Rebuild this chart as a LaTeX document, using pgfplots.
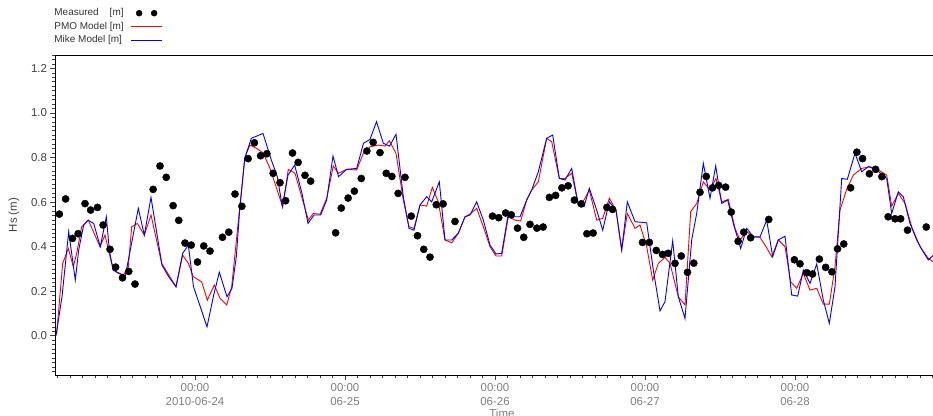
\documentclass[border=0pt]{standalone}
\usepackage{fontspec}
\setmainfont{Liberation Sans}
\usepackage{pgfplots}
\usepackage{pgfplotstable}
\pgfplotsset{compat=1.18}

% x: hours after 2010-06-24 00:00, y: Hs [m]
\pgfplotstableread{
h v
-21.7 0.546
-20.7 0.614
-19.6 0.437
-18.7 0.458
-17.6 0.593
-16.7 0.564
-15.6 0.576
-14.7 0.497
-13.6 0.388
-12.7 0.308
-11.6 0.260
-10.6 0.289
-9.6 0.232
-6.7 0.657
-5.6 0.762
-4.6 0.711
-3.5 0.584
-2.6 0.518
-1.6 0.416
-0.6 0.407
0.4 0.331
1.4 0.403
2.4 0.380
4.4 0.442
5.4 0.465
6.4 0.636
7.5 0.581
8.5 0.795
9.5 0.866
10.5 0.808
11.5 0.817
12.5 0.729
13.6 0.687
14.5 0.606
15.6 0.820
16.5 0.778
17.6 0.720
18.5 0.694
22.5 0.462
23.4 0.573
24.5 0.618
25.5 0.649
26.6 0.706
27.5 0.829
28.5 0.868
29.6 0.822
30.6 0.729
31.5 0.715
32.5 0.639
33.6 0.711
34.6 0.537
35.6 0.449
36.6 0.388
37.6 0.353
38.6 0.588
39.7 0.592
41.6 0.513
47.6 0.537
48.6 0.530
49.7 0.551
50.6 0.543
51.6 0.483
52.6 0.442
53.6 0.500
54.7 0.483
55.7 0.488
56.7 0.621
57.7 0.630
58.7 0.664
59.7 0.673
60.7 0.609
61.8 0.592
62.7 0.458
63.7 0.461
65.9 0.576
66.8 0.567
71.6 0.419
72.7 0.419
73.8 0.383
74.8 0.365
75.7 0.370
76.8 0.325
77.8 0.358
78.8 0.285
79.8 0.326
80.8 0.644
81.8 0.715
82.8 0.664
83.8 0.675
84.9 0.667
85.8 0.555
86.9 0.424
87.8 0.465
88.9 0.440
91.8 0.522
95.9 0.341
96.8 0.323
97.9 0.283
98.8 0.277
99.9 0.344
100.9 0.307
101.9 0.287
102.8 0.390
103.8 0.412
104.9 0.664
105.9 0.824
106.8 0.795
107.9 0.727
108.9 0.747
109.9 0.714
110.9 0.534
112.0 0.525
112.9 0.525
114.0 0.474
117.0 0.488
}\measured

\pgfplotstableread{
h v
-22.13 0.010
-21.17 0.325
-20.27 0.392
-19.47 0.310
-18.93 0.370
-18.13 0.489
-17.07 0.519
-15.20 0.400
-14.40 0.452
-13.33 0.325
-12.53 0.287
-11.47 0.272
-10.67 0.310
-10.13 0.489
-9.23 0.504
-8.11 0.452
-7.04 0.542
-5.33 0.325
-3.04 0.220
-1.97 0.362
-1.07 0.325
-0.27 0.265
1.07 0.242
1.97 0.160
3.09 0.228
4.00 0.168
5.07 0.138
5.87 0.220
6.88 0.500
8.00 0.803
8.80 0.856
9.87 0.841
10.93 0.819
12.00 0.751
14.03 0.579
14.93 0.747
16.00 0.729
18.13 0.519
18.93 0.549
20.00 0.545
21.07 0.617
22.13 0.762
22.93 0.729
24.27 0.747
25.87 0.744
26.93 0.819
28.00 0.848
29.33 0.856
30.40 0.851
31.09 0.875
32.16 0.819
33.33 0.609
34.24 0.489
35.04 0.482
36.00 0.587
37.07 0.582
37.97 0.666
38.93 0.601
40.00 0.430
41.07 0.417
42.13 0.460
43.20 0.534
44.00 0.546
45.07 0.572
46.13 0.489
47.20 0.400
48.16 0.358
49.07 0.358
50.13 0.534
51.20 0.519
52.11 0.515
53.07 0.609
53.87 0.654
54.93 0.691
56.27 0.886
57.07 0.871
58.29 0.706
59.20 0.706
60.27 0.729
61.33 0.587
62.24 0.609
63.09 0.654
64.27 0.519
65.23 0.527
66.29 0.617
67.36 0.564
68.27 0.385
69.17 0.549
70.40 0.482
71.20 0.497
72.27 0.400
73.23 0.250
74.13 0.325
75.20 0.352
76.00 0.325
77.33 0.175
78.40 0.138
79.31 0.557
80.27 0.594
81.33 0.691
82.40 0.654
83.36 0.706
84.27 0.601
85.33 0.612
86.40 0.482
87.20 0.430
88.27 0.467
89.33 0.444
90.40 0.442
91.36 0.400
92.27 0.355
93.33 0.430
94.40 0.400
95.31 0.242
96.27 0.213
97.33 0.280
98.40 0.205
99.47 0.213
100.53 0.142
101.49 0.142
102.40 0.310
103.20 0.564
104.27 0.657
105.33 0.721
106.67 0.751
108.00 0.759
109.33 0.744
110.67 0.721
111.47 0.582
112.53 0.639
113.60 0.594
114.67 0.489
116.00 0.400
117.33 0.347
118.13 0.332
}\pmo

\pgfplotstableread{
h v
-22.24 0.000
-21.28 0.175
-20.21 0.467
-19.15 0.250
-18.61 0.385
-17.81 0.497
-17.12 0.519
-16.21 0.504
-15.15 0.400
-14.19 0.534
-13.71 0.385
-13.12 0.295
-12.21 0.280
-11.15 0.269
-9.07 0.572
-8.11 0.452
-7.04 0.621
-5.28 0.317
-4.21 0.265
-3.04 0.220
-1.97 0.370
-1.07 0.407
-0.24 0.220
0.85 0.130
1.92 0.040
2.99 0.183
3.89 0.285
5.12 0.175
5.92 0.213
6.61 0.355
7.15 0.564
7.95 0.796
9.01 0.886
10.88 0.908
12.21 0.789
13.17 0.714
13.97 0.579
14.88 0.721
15.95 0.766
17.12 0.639
18.08 0.504
19.04 0.542
20.11 0.542
21.07 0.609
22.08 0.807
22.96 0.714
24.27 0.747
25.87 0.751
26.96 0.864
28.00 0.881
29.04 0.961
30.13 0.864
31.12 0.851
32.16 0.904
33.33 0.624
34.24 0.482
35.04 0.474
36.00 0.587
37.07 0.624
37.87 0.601
39.09 0.691
40.00 0.430
41.07 0.430
42.13 0.460
43.20 0.534
44.00 0.542
45.07 0.601
46.13 0.519
47.20 0.407
48.16 0.367
49.07 0.370
50.13 0.549
50.93 0.534
52.00 0.534
53.07 0.609
53.87 0.654
54.93 0.736
56.27 0.886
57.23 0.901
58.29 0.706
59.20 0.699
60.27 0.751
61.33 0.587
62.24 0.579
63.09 0.662
64.27 0.564
65.23 0.474
66.29 0.601
67.36 0.564
68.27 0.385
69.17 0.601
70.40 0.512
72.27 0.507
73.33 0.295
74.40 0.112
75.20 0.153
76.43 0.426
77.33 0.175
78.40 0.078
79.47 0.430
80.27 0.549
81.33 0.774
82.40 0.617
83.31 0.762
84.27 0.594
85.23 0.609
86.13 0.504
87.31 0.392
88.27 0.482
89.33 0.444
90.40 0.444
91.47 0.519
92.43 0.355
93.33 0.430
94.40 0.447
95.47 0.183
96.43 0.178
97.33 0.295
98.40 0.235
99.47 0.322
100.53 0.160
101.49 0.056
102.40 0.220
103.47 0.706
104.37 0.702
105.60 0.819
106.67 0.736
107.73 0.759
109.07 0.744
110.67 0.706
111.47 0.549
112.53 0.646
113.33 0.624
114.40 0.504
115.47 0.430
116.27 0.388
117.33 0.340
118.13 0.362
}\mike

\begin{document}
\begin{tikzpicture}
\useasboundingbox (0bp,0bp) rectangle (933bp,416bp);
\begin{axis}[
  at={(55bp,41bp)}, anchor=south west,
  scale only axis, width=878bp, height=320bp,
  xmin=-22.4, xmax=118.08, ymin=-0.176, ymax=1.26,
  axis line style={black, line width=0.9bp},
  tick align=outside,
  xtick pos=bottom, ytick pos=left,
  xtick={0,24,48,72,96},
  xticklabels={{00:00\\2010-06-24},{00:00\\06-25},{00:00\\06-26},{00:00\\06-27},{00:00\\06-28}},
  xticklabel style={align=center, font=\fontsize{11.5}{15}\selectfont, text=black!50},
  minor xtick={-22,-20,...,118},
  ytick={0,0.2,0.4,0.6,0.8,1.0,1.2},
  minor ytick={-0.16,-0.14,...,1.26},
  yticklabel style={font=\fontsize{11.5}{13}\selectfont, text=black!75,
    /pgf/number format/fixed, /pgf/number format/fixed zerofill, /pgf/number format/precision=1},
  /pgf/number format/assume math mode=true,
  major tick length=4.5bp, minor tick length=2.5bp,
  every tick/.style={black!75, line width=0.6bp},
  ylabel={Hs (m)},
  ylabel style={at={(axis description cs:-0.0467,0.5)}, anchor=center, font=\fontsize{11.5}{13}\selectfont, text=black!75},
  xlabel={Time},
  xlabel style={at={(axis description cs:0.509,-0.097)}, anchor=north, font=\fontsize{11.5}{13}\selectfont, text=black!50},
  legend plot pos=right,
  legend cell align=left,
  legend style={at={(axis description cs:-0.002,1.15)}, anchor=north west, draw=none, fill=none,
    font=\fontsize{10}{12}\selectfont, text=black!80, inner sep=0pt, row sep=1.5bp,
    nodes={inner sep=1bp, text height=7.5bp, text depth=2.5bp},
    /tikz/every odd column/.append style={column sep=6bp}},
]
\addlegendimage{legend image code/.code={\fill[black] (8bp,0bp) circle (3bp); \fill[black] (23bp,0bp) circle (3bp);}}
\addlegendentry{Measured\hspace{11bp}[m]}
\addlegendimage{legend image code/.code={\draw[red, line width=1bp] (0bp,0bp) -- (31bp,0bp);}}
\addlegendentry{PMO Model [m]}
\addlegendimage{legend image code/.code={\draw[blue, line width=1bp] (0bp,0bp) -- (31bp,0bp);}}
\addlegendentry{Mike Model [m]}
\addplot[red, line width=0.9bp, forget plot] table {\pmo};
\addplot[blue, line width=0.9bp, forget plot] table {\mike};
\addplot[only marks, mark=*, mark size=3.6bp, black, forget plot] table {\measured};
\end{axis}
\end{tikzpicture}
\end{document}
